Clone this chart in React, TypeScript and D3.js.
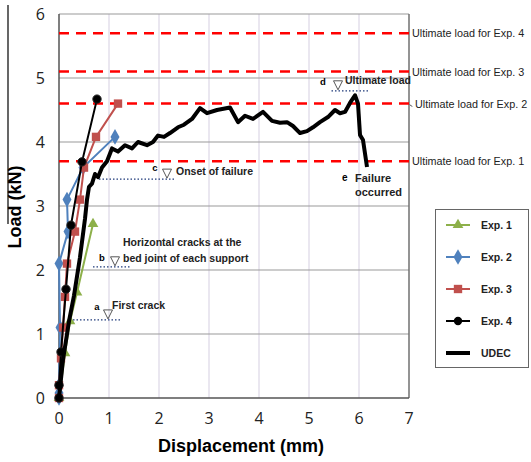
import { useRef, useEffect } from 'react';
import * as d3 from 'd3';

const exp1 = [[0, 0], [0.12, 0.7], [0.22, 1.2], [0.36, 1.65], [0.68, 2.72]];
const exp2 = [[0, 0], [0, 0.08], [0, 0.2], [0.02, 1.1], [0, 2.1], [0.18, 2.6], [0.16, 3.1], [0.48, 3.6], [1.12, 4.08]];
const exp3 = [[0, 0], [0, 0.2], [0.04, 0.62], [0.08, 1.1], [0.12, 1.58], [0.16, 2.1], [0.32, 2.6], [0.42, 3.1], [0.5, 3.6], [0.74, 4.08], [1.18, 4.6]];
const exp4 = [[0, 0], [0, 0.2], [0.04, 0.72], [0.14, 1.7], [0.24, 2.7], [0.46, 3.69], [0.76, 4.67]];
const udec = [
  [0, 0], [0.08, 0.6], [0.2, 1.2], [0.3, 1.6], [0.42, 2.2], [0.52, 2.8], [0.56, 3.1], [0.6, 3.3],
  [0.66, 3.35], [0.72, 3.5], [0.78, 3.45], [0.86, 3.6], [0.96, 3.7], [1.06, 3.9], [1.18, 3.85],
  [1.32, 3.95], [1.46, 3.9], [1.58, 4.0], [1.76, 3.95], [1.88, 4.0], [1.98, 4.1], [2.1, 4.08],
  [2.22, 4.14], [2.38, 4.23], [2.5, 4.27], [2.66, 4.36], [2.82, 4.53], [2.96, 4.45], [3.16, 4.5],
  [3.42, 4.54], [3.58, 4.31], [3.72, 4.41], [3.88, 4.36], [4.08, 4.47], [4.26, 4.33], [4.42, 4.3],
  [4.56, 4.31], [4.68, 4.25], [4.82, 4.14], [4.96, 4.17], [5.08, 4.23], [5.22, 4.31], [5.38, 4.39],
  [5.52, 4.5], [5.62, 4.45], [5.72, 4.47], [5.82, 4.61], [5.92, 4.73], [5.98, 4.6], [6.02, 4.11],
  [6.08, 4.03], [6.16, 3.61],
];

const ultimateLoads = [5.7, 5.1, 4.6, 3.7];
const ultimateLabels = ['Ultimate  load for Exp. 4', 'Ultimate  load for Exp. 3', 'Ultimate  load for Exp. 2', 'Ultimate  load for Exp. 1'];
const xTicks = [0, 1, 2, 3, 4, 5, 6, 7];
const yTicks = [0, 1, 2, 3, 4, 5, 6];

// annotation markers: letter, triangle position (data), dotted line extent, text lines
const notes = [
  { letter: 'a', x: 0.98, y: 1.22, x0: 0.28, x1: 1.26, text: ['First crack'] },
  { letter: 'b', x: 1.12, y: 2.05, x0: 0.68, x1: 1.42, text: ['Horizontal cracks at the', 'bed joint of each support'] },
  { letter: 'c', x: 2.16, y: 3.42, x0: 0.8, x1: 2.3, text: ['Onset of failure'] },
  { letter: 'd', x: 5.58, y: 4.8, x0: 5.45, x1: 6.2, text: ['Ultimate load'] },
];
// pixel offsets of letter / text relative to the dotted line
const noteLayout = [
  { lx: -11, ly: -10, tx: 4, ty: -11 },
  { lx: -13, ly: -6, tx: 8, ty: -5 },
  { lx: -12, ly: -8, tx: 9, ty: -4 },
  { lx: -15, ly: -6, tx: 7, ty: -7 },
];

const series = [
  { name: 'Exp. 1', data: exp1, color: '#8DB04A', symbol: d3.symbolTriangle, size: 50 },
  { name: 'Exp. 2', data: exp2, color: '#4F81BD', symbol: d3.symbolDiamond, size: 70 },
  { name: 'Exp. 3', data: exp3, color: '#C0504D', symbol: d3.symbolSquare, size: 70 },
  { name: 'Exp. 4', data: exp4, color: '#000000', symbol: d3.symbolCircle, size: 55 },
];

export default function App() {
  const svgRef = useRef<SVGSVGElement>(null);

  useEffect(() => {
    const svg = d3.select(svgRef.current);
    svg.selectAll('*').remove();

    const x = d3.scaleLinear().domain([0, 7]).range([59, 409]);
    const y = d3.scaleLinear().domain([0, 6]).range([398, 14]);
    const font = 'Liberation Sans, Arial, sans-serif';

    // grid
    svg.append('g').selectAll('line').data(xTicks.slice(1, -1)).join('line')
      .attr('x1', d => x(d)).attr('x2', d => x(d)).attr('y1', y(6)).attr('y2', y(0))
      .attr('stroke', '#dcd7e6').attr('stroke-width', 1.2);
    svg.append('g').selectAll('line').data(yTicks.slice(1)).join('line')
      .attr('x1', x(0)).attr('x2', x(7)).attr('y1', d => y(d)).attr('y2', d => y(d))
      .attr('stroke', '#9a9a9a').attr('stroke-width', 1.2);

    // frame
    svg.append('line').attr('x1', x(7)).attr('x2', x(7)).attr('y1', y(6)).attr('y2', y(0))
      .attr('stroke', '#707070').attr('stroke-width', 1.5);
    svg.append('line').attr('x1', x(0)).attr('x2', x(0)).attr('y1', y(6)).attr('y2', y(0))
      .attr('stroke', '#555').attr('stroke-width', 1.5);
    svg.append('line').attr('x1', x(0)).attr('x2', x(7)).attr('y1', y(0)).attr('y2', y(0))
      .attr('stroke', '#555').attr('stroke-width', 1.5);

    // ultimate load lines
    svg.append('g').selectAll('line').data(ultimateLoads).join('line')
      .attr('x1', x(0)).attr('x2', x(7)).attr('y1', d => y(d)).attr('y2', d => y(d))
      .attr('stroke', '#ff0000').attr('stroke-width', 2.5).attr('stroke-dasharray', '10,7');
    svg.append('g').selectAll('text').data(ultimateLoads).join('text')
      .attr('x', (d, i) => (i === 2 ? 415 : 412)).attr('y', d => y(d) + 4)
      .attr('font-family', font).attr('font-size', 10.8).attr('fill', '#222')
      .text((d, i) => ultimateLabels[i]);
    svg.append('line').attr('x1', 410).attr('x2', 412).attr('y1', y(4.6) + 1).attr('y2', y(4.6) + 3)
      .attr('stroke', '#222');

    // axis tick labels
    svg.append('g').selectAll('text').data(xTicks).join('text')
      .attr('x', d => x(d)).attr('y', 424).attr('text-anchor', 'middle')
      .attr('font-family', 'Open Sans, sans-serif').attr('font-size', 16).attr('fill', '#222')
      .text(d => d);
    svg.append('g').selectAll('text').data(yTicks).join('text')
      .attr('x', 45).attr('y', d => y(d) + 6).attr('text-anchor', 'end')
      .attr('font-family', 'Open Sans, sans-serif').attr('font-size', 16).attr('fill', '#222')
      .text(d => d);

    // axis titles
    svg.append('text').attr('x', 241).attr('y', 452).attr('text-anchor', 'middle')
      .attr('font-family', font).attr('font-weight', 'bold').attr('font-size', 18)
      .text('Displacement (mm)');
    svg.append('text').attr('transform', 'translate(21,207) rotate(-90)').attr('text-anchor', 'middle')
      .attr('font-family', font).attr('font-weight', 'bold').attr('font-size', 18)
      .text('Load (kN)');
    svg.append('line').attr('x1', 8).attr('x2', 8).attr('y1', 5).attr('y2', 224)
      .attr('stroke', '#000').attr('stroke-width', 1.2);

    // annotations
    notes.forEach((n, k) => {
      const L = noteLayout[k];
      const g = svg.append('g');
      const ly = y(n.y);
      g.append('line').attr('x1', x(n.x0)).attr('x2', x(n.x1)).attr('y1', ly).attr('y2', ly)
        .attr('stroke', '#1f3a7a').attr('stroke-width', 1.3).attr('stroke-dasharray', '1.5,2');
      const tx = x(n.x);
      g.append('path').attr('d', `M${tx - 4.5},${ly - 10}L${tx + 4.5},${ly - 10}L${tx},${ly - 1}Z`)
        .attr('fill', 'none').attr('stroke', '#444').attr('stroke-width', 0.9);
      g.append('text').attr('x', tx + L.lx).attr('y', ly + L.ly).attr('text-anchor', 'middle')
        .attr('font-family', font).attr('font-weight', 'bold').attr('font-size', 9.5).text(n.letter);
      n.text.forEach((t, i) => {
        g.append('text').attr('x', tx + L.tx).attr('y', ly + L.ty + (i - n.text.length + 1) * 16)
          .attr('font-family', font).attr('font-weight', 'bold').attr('font-size', 10.5).attr('fill', '#222').text(t);
      });
    });
    svg.append('text').attr('x', 342).attr('y', 181).attr('font-family', font)
      .attr('font-weight', 'bold').attr('font-size', 10).text('e');
    ['Failure', 'occurred'].forEach((t, i) => {
      svg.append('text').attr('x', 355).attr('y', 182 + i * 14).attr('font-family', font)
        .attr('font-weight', 'bold').attr('font-size', 11).attr('fill', '#222').text(t);
    });

    const line = d3.line<number[]>().x(d => x(d[0])).y(d => y(d[1]));

    // experimental series
    series.forEach(s => {
      svg.append('path').attr('d', line(s.data)).attr('fill', 'none')
        .attr('stroke', s.color).attr('stroke-width', 2);
      svg.append('g').selectAll('path').data(s.data).join('path')
        .attr('transform', d => `translate(${x(d[0])},${y(d[1])})`)
        .attr('d', d3.symbol(s.symbol, s.size)())
        .attr('fill', s.color).attr('stroke', s.name === 'Exp. 4' ? '#222' : 'none');
    });

    // UDEC
    svg.append('path').attr('d', line(udec)).attr('fill', 'none')
      .attr('stroke', '#000').attr('stroke-width', 4).attr('stroke-linejoin', 'round');

    // legend
    const lg = svg.append('g');
    lg.append('rect').attr('x', 435.5).attr('y', 209.5).attr('width', 93).attr('height', 158)
      .attr('fill', '#fff').attr('stroke', '#666').attr('stroke-width', 1);
    const rows = [...series.map(s => ({ ...s, thick: false })), { name: 'UDEC', color: '#000', symbol: null, size: 0, thick: true }];
    rows.forEach((r, i) => {
      const ry = 225 + i * 32;
      lg.append('line').attr('x1', 446).attr('x2', 470).attr('y1', ry).attr('y2', ry)
        .attr('stroke', r.color).attr('stroke-width', r.thick ? 4 : 2);
      if (r.symbol) {
        lg.append('path').attr('transform', `translate(458,${ry})`)
          .attr('d', d3.symbol(r.symbol as d3.SymbolType, r.size)()).attr('fill', r.color);
      }
      lg.append('text').attr('x', 481).attr('y', ry + 4).attr('font-family', font)
        .attr('font-weight', 'bold').attr('font-size', 10.5).attr('fill', '#222').text(r.name);
    });
  }, []);

  return <svg ref={svgRef} width={531} height={462} style={{ position: 'absolute', left: 0, top: 0, background: '#fff' }} />;
}
